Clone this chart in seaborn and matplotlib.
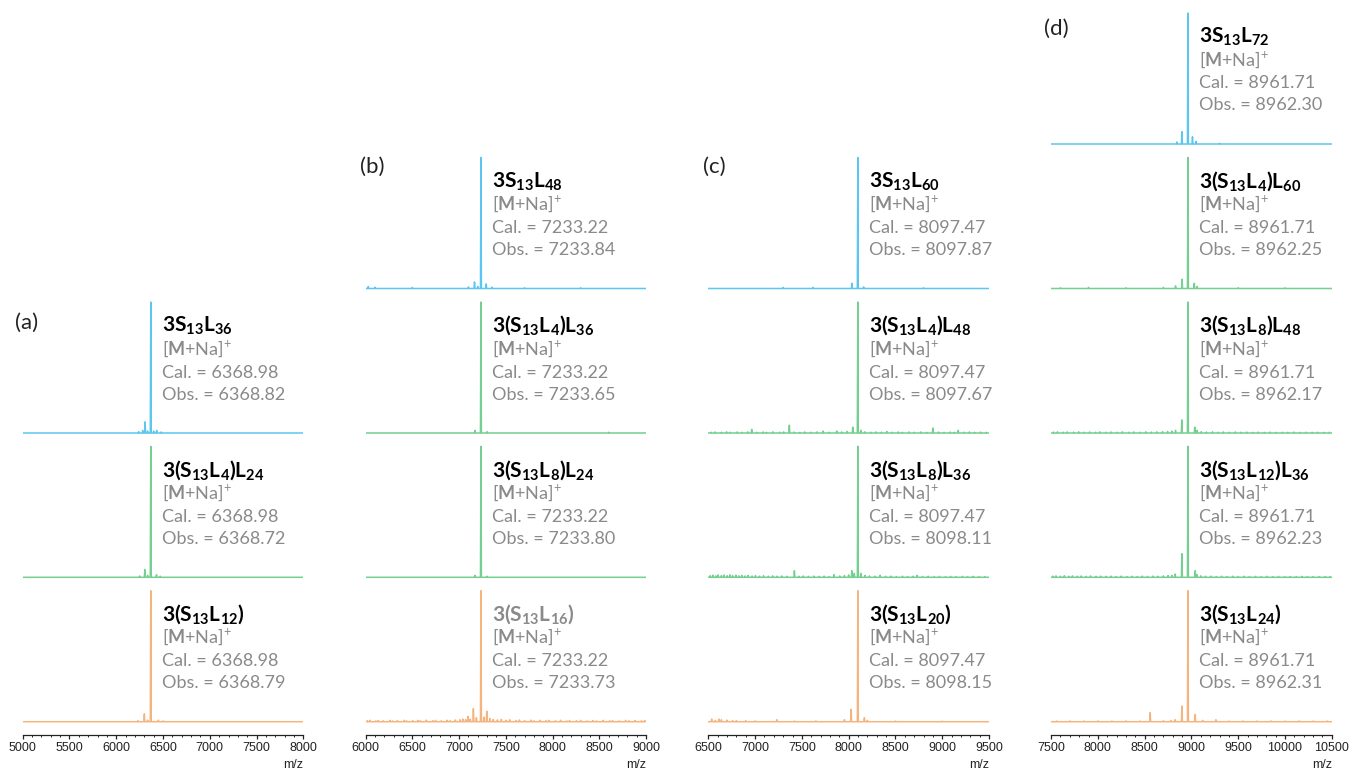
import pandas as pd
import matplotlib
matplotlib.use("Agg")
import matplotlib.pyplot as plt
from matplotlib.ticker import MultipleLocator
import seaborn as sns

sns.set_theme(style="white")
plt.rcParams["font.family"] = ["Lato", "DejaVu Sans"]
plt.rcParams["mathtext.fontset"] = "custom"
plt.rcParams["mathtext.rm"] = "Lato"
plt.rcParams["mathtext.bf"] = "Lato:bold"
plt.rcParams["mathtext.it"] = "Lato:italic"

# ---------------------------------------------------------------- data
PANEL_LETTERS = ["(a)", "(b)", "(c)", "(d)"]
MZ_RANGES = [(5000, 8000), (6000, 9000), (6500, 9500), (7500, 10500)]
CAL_MZ = [6368.98, 7233.22, 8097.47, 8961.71]

NAMES_A = [r"3S_{13}L_{36}", r"3(S_{13}L_{4})L_{24}", r"3(S_{13}L_{12})"]
NAMES_B = [r"3S_{13}L_{48}", r"3(S_{13}L_{4})L_{36}", r"3(S_{13}L_{8})L_{24}",
           r"3(S_{13}L_{16})"]
NAMES_C = [r"3S_{13}L_{60}", r"3(S_{13}L_{4})L_{48}", r"3(S_{13}L_{8})L_{36}",
           r"3(S_{13}L_{20})"]
NAMES_D = [r"3S_{13}L_{72}", r"3(S_{13}L_{4})L_{60}", r"3(S_{13}L_{8})L_{48}",
           r"3(S_{13}L_{12})L_{36}", r"3(S_{13}L_{24})"]

OBS_A = [6368.82, 6368.72, 6368.79]
OBS_B = [7233.84, 7233.65, 7233.80, 7233.73]
OBS_C = [8097.87, 8097.67, 8098.11, 8098.15]
OBS_D = [8962.30, 8962.25, 8962.17, 8962.23, 8962.31]

# minor peaks (m/z, relative intensity); base peak = 1.0 at the observed m/z
SIDE_A1 = [(6240, .010), (6282, .020), (6308, .085), (6335, .015), (6400, .015),
           (6432, .020), (6480, .008)]
SIDE_A2 = [(6250, .010), (6305, .060), (6335, .015), (6430, .020), (6470, .008)]
SIDE_A3 = [(6233, .008), (6300, .060), (6335, .012), (6450, .012), (6500, .006)]

SIDE_B1 = [(6030, .015), (6100, .010), (6500, .008), (7100, .012), (7165, .050),
           (7200, .015), (7290, .035), (7350, .010), (7700, .006), (8300, .006)]
SIDE_B2 = [(7170, .020), (7300, .010), (8600, .006)]
SIDE_B3 = [(7170, .015), (7300, .008)]
SIDE_B4 = [(6020, .008), (6048, .011), (6110, .006), (6135, .009), (6190, .007),
           (6262, .010), (6290, .006), (6340, .008), (6415, .011), (6440, .006),
           (6505, .008), (6560, .010), (6585, .007), (6650, .012), (6720, .008),
           (6748, .010), (6810, .007), (6872, .011), (6905, .008), (6960, .013),
           (7010, .015), (7040, .020), (7070, .017), (7096, .040), (7120, .020),
           (7153, .100), (7185, .030), (7265, .035), (7296, .080), (7330, .024),
           (7365, .017), (7410, .014), (7452, .018), (7500, .011), (7540, .015),
           (7610, .009), (7645, .013), (7700, .008), (7770, .012), (7800, .007),
           (7865, .011), (7930, .008), (7960, .010), (8030, .007), (8085, .011),
           (8150, .006), (8180, .009), (8255, .007), (8300, .010), (8370, .006),
           (8430, .009), (8470, .006), (8540, .010), (8610, .007), (8640, .009),
           (8710, .006), (8780, .010), (8815, .007), (8880, .009), (8950, .007),
           (8985, .009)]

SIDE_C1 = [(7300, .008), (7620, .008), (8035, .040), (8160, .012), (8800, .006)]
SIDE_C2 = [(6530, .006), (6572, .008), (6640, .005), (6695, .009), (6731, .006),
           (6808, .008), (6860, .005), (6922, .009), (6964, .028), (7018, .006),
           (7085, .008), (7121, .005), (7190, .009), (7262, .006), (7305, .008),
           (7366, .060), (7415, .007), (7478, .005), (7530, .008), (7598, .006),
           (7660, .008), (7727, .015), (7790, .006), (7873, .015), (7925, .008),
           (7985, .012), (8044, .045), (8130, .020), (8172, .009), (8236, .006),
           (8290, .008), (8350, .006), (8408, .012), (8466, .006), (8530, .008),
           (8575, .005), (8644, .008), (8702, .006), (8770, .008), (8835, .005),
           (8900, .038), (8960, .007), (9020, .005), (9085, .007), (9130, .005),
           (9171, .020), (9230, .006), (9290, .008), (9345, .005), (9410, .007),
           (9470, .005)]
SIDE_C3 = [(6520, .012), (6548, .016), (6581, .011), (6605, .018), (6640, .013),
           (6668, .017), (6702, .012), (6731, .019), (6760, .013), (6795, .016),
           (6826, .011), (6858, .015), (6893, .010), (6925, .014), (6968, .010),
           (7004, .013), (7047, .009), (7090, .012), (7142, .008), (7188, .011),
           (7233, .008), (7285, .010), (7340, .008), (7420, .050), (7470, .008),
           (7515, .010), (7570, .007), (7628, .009), (7685, .007), (7738, .009),
           (7790, .006), (7844, .020), (7905, .010), (7955, .013), (8000, .018),
           (8034, .050), (8060, .030), (8130, .030), (8175, .014), (8222, .010),
           (8280, .008), (8336, .015), (8395, .007), (8452, .009), (8510, .006),
           (8575, .008), (8630, .006), (8690, .008), (8732, .015), (8790, .006),
           (8850, .008), (8915, .006), (8970, .007), (9035, .005), (9090, .007),
           (9150, .005), (9215, .007), (9270, .005), (9330, .007), (9395, .005),
           (9455, .006)]
SIDE_C4 = [(6536, .020), (6575, .010), (6614, .020), (6640, .015), (6700, .012),
           (6760, .008), (6800, .008), (6900, .008), (7000, .006), (7232, .015),
           (7420, .005), (7650, .006), (7955, .015), (8026, .094), (8168, .030),
           (8200, .010), (8500, .005), (9000, .004)]

SIDE_D1 = [(8844, .015), (8898, .094), (9011, .055), (9048, .020), (9300, .005)]
SIDE_D2 = [(7600, .006), (7900, .008), (8300, .006), (8700, .008), (8830, .020),
           (8900, .070), (9030, .040), (9060, .015), (9500, .006), (10000, .005)]
SIDE_D3 = [(7525, .007), (7568, .009), (7630, .006), (7672, .008), (7741, .006),
           (7795, .009), (7850, .006), (7912, .008), (7975, .006), (8020, .009),
           (8085, .006), (8140, .008), (8205, .006), (8262, .009), (8330, .006),
           (8385, .008), (8450, .006), (8512, .009), (8570, .007), (8630, .009),
           (8690, .010), (8745, .012), (8790, .014), (8830, .020), (8897, .100),
           (9035, .045), (9060, .020), (9105, .010), (9160, .007), (9225, .009),
           (9282, .006), (9340, .008), (9405, .006), (9470, .008), (9528, .006),
           (9590, .007), (9655, .005), (9712, .007), (9780, .005), (9840, .007),
           (9905, .005), (9970, .006), (10030, .005), (10095, .007),
           (10160, .005), (10222, .006), (10290, .005), (10350, .006),
           (10420, .005), (10475, .006)]
SIDE_D4 = [(7520, .009), (7552, .011), (7600, .008), (7641, .012), (7690, .008),
           (7728, .011), (7780, .008), (7822, .010), (7875, .007), (7921, .010),
           (7980, .007), (8030, .009), (8086, .007), (8140, .009), (8195, .006),
           (8250, .009), (8310, .006), (8365, .008), (8420, .006), (8475, .009),
           (8530, .007), (8588, .009), (8640, .008), (8700, .011), (8750, .013),
           (8790, .015), (8826, .025), (8898, .180), (9040, .050), (9058, .020),
           (9100, .011), (9150, .008), (9210, .009), (9265, .006), (9322, .008),
           (9380, .006), (9440, .008), (9500, .006), (9560, .008), (9620, .005),
           (9685, .007), (9745, .005), (9805, .007), (9870, .005), (9930, .007),
           (9995, .005), (10055, .006), (10120, .005), (10180, .007),
           (10240, .005), (10300, .006), (10365, .005), (10430, .006),
           (10480, .005)]
SIDE_D5 = [(7560, .005), (7700, .006), (7850, .005), (8000, .006), (8150, .005),
           (8300, .006), (8450, .005), (8559, .069), (8700, .007), (8780, .009),
           (8826, .015), (8898, .120), (9040, .055), (9120, .010), (9262, .015),
           (9400, .005), (9550, .006), (9700, .005), (9850, .006), (10000, .005),
           (10150, .006), (10300, .005), (10450, .005)]

SIDES = [[SIDE_A1, SIDE_A2, SIDE_A3],
         [SIDE_B1, SIDE_B2, SIDE_B3, SIDE_B4],
         [SIDE_C1, SIDE_C2, SIDE_C3, SIDE_C4],
         [SIDE_D1, SIDE_D2, SIDE_D3, SIDE_D4, SIDE_D5]]
NAMES = [NAMES_A, NAMES_B, NAMES_C, NAMES_D]
OBS = [OBS_A, OBS_B, OBS_C, OBS_D]

# ---------------------------------------------------------------- style
BLUE, GREEN, ORANGE = "#5bc6ef", "#74cf90", "#f5b47d"
GRAY = "#8a8a8a"
TICK_FONT = "Liberation Sans"

W, H = 1351, 771
COL_LEFT = [22.7, 365.5, 708.3, 1051.1]
COL_WIDTH = 280.7
ROW_BASE = [144.0, 288.5, 433.0, 577.3, 721.7]   # baseline of each stacked trace
PEAK_PX = 131.0                                   # pixel height of intensity 1.0
AXIS_Y = 735.0


def px_axes(fig, left, top, width, height):
    return fig.add_axes([left / W, 1 - (top + height) / H, width / W, height / H])


def stick_profile(sticks, lo, hi, half=5.0):
    xs, ys = [lo], [0.0]
    for m, h in sorted(sticks):
        xs += [m - half, m, m + half]
        ys += [0.0, h, 0.0]
    xs.append(hi)
    ys.append(0.0)
    return pd.DataFrame({"mz": xs, "intensity": ys})


fig = plt.figure(figsize=(W / 100, H / 100), dpi=100)

for ci in range(4):
    lo, hi = MZ_RANGES[ci]
    n = len(OBS[ci])
    rows = ROW_BASE[5 - n:]
    for k in range(n):
        base = rows[k]
        ax = px_axes(fig, COL_LEFT[ci], base - 135, COL_WIDTH, 138)
        color = BLUE if k == 0 else (ORANGE if k == n - 1 else GREEN)
        obs = OBS[ci][k]
        df = stick_profile([(obs, 1.0)] + SIDES[ci][k], lo, hi)
        sns.lineplot(data=df, x="mz", y="intensity", ax=ax, color=color,
                     lw=1.1, sort=False, estimator=None)
        ax.set_xlim(lo, hi)
        ax.set_ylim(-3 / PEAK_PX, 135 / PEAK_PX)
        ax.set_axis_off()

        title_color = GRAY if (ci == 1 and k == n - 1) else "black"
        lines = [
            (r"$\mathbf{" + NAMES[ci][k] + "}$", 101, 15, title_color),
            (r"[$\mathbf{M}$+Na]$^{+}$", 78.5, 13, GRAY),
            (f"Cal. = {CAL_MZ[ci]:.2f}", 55.5, 13, GRAY),
            (f"Obs. = {obs:.2f}", 33.5, 13, GRAY),
        ]
        for txt, dy, fs, col in lines:
            ax.annotate(txt, xy=(obs, 0), xytext=(11, dy),
                        textcoords="offset pixels", ha="left", va="baseline",
                        fontsize=fs, color=col, annotation_clip=False)

    # m/z axis under each column
    axb = px_axes(fig, COL_LEFT[ci], AXIS_Y - 1, COL_WIDTH, 1)
    axb.set_xlim(lo, hi)
    axb.set_yticks([])
    for s in ("top", "left", "right"):
        axb.spines[s].set_visible(False)
    axb.spines["bottom"].set_color("#222222")
    axb.spines["bottom"].set_linewidth(0.9)
    axb.patch.set_alpha(0)
    axb.xaxis.set_major_locator(MultipleLocator(500))
    axb.xaxis.set_minor_locator(MultipleLocator(100))
    axb.tick_params(axis="x", which="major", direction="out", length=3.2,
                    width=0.9, pad=1.5, labelsize=9, colors="#222222",
                    bottom=True, labelfontfamily=TICK_FONT)
    axb.tick_params(axis="x", which="minor", direction="out", length=1.6,
                    width=0.7, bottom=True, colors="#222222")
    axb.set_xlabel("m/z", loc="right", fontsize=9, family=TICK_FONT,
                   labelpad=4, color="#222222")

# panel letters
LETTER_POS = [(15, 323), (360, 167), (703, 167), (1044, 29)]
for letter, (x, y) in zip(PANEL_LETTERS, LETTER_POS):
    fig.text(x / W, 1 - y / H, letter, fontsize=16, ha="left", va="center",
             color="#222222")

fig.savefig("out.png", dpi=100)
